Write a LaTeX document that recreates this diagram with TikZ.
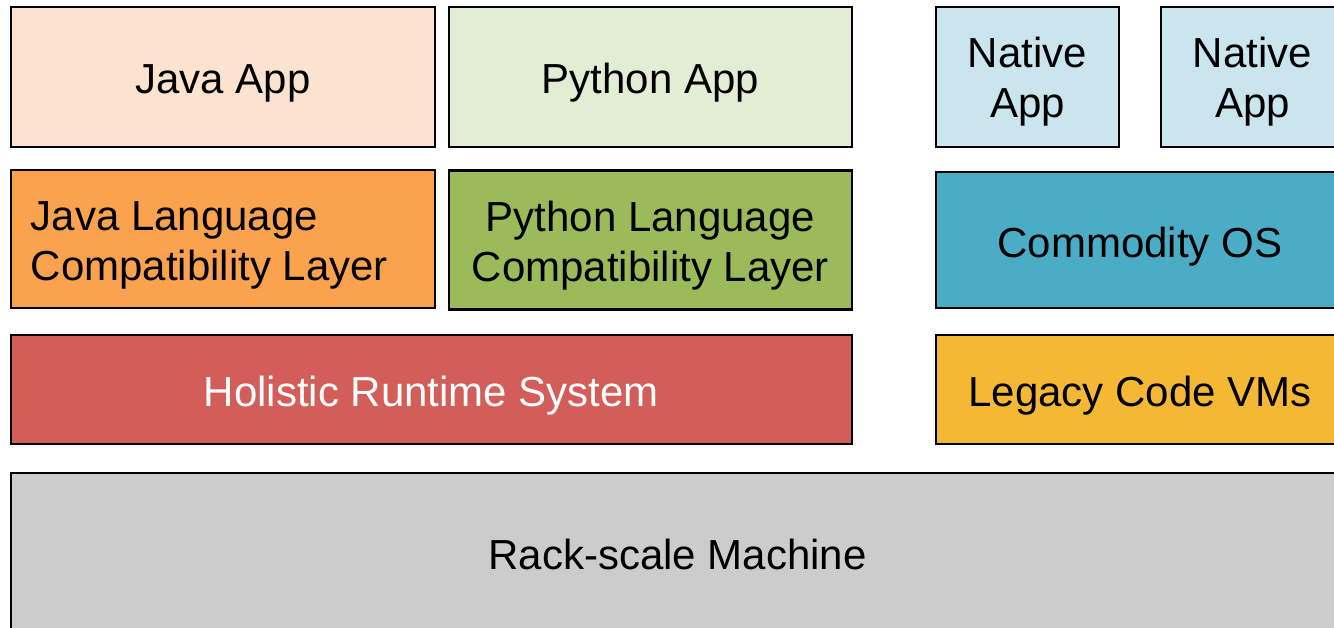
\documentclass[tikz,border=0pt]{standalone}
\usepackage{fontspec}
\setmainfont{Liberation Sans}
\definecolor{javaapp}{HTML}{FCE3D0}
\definecolor{pyapp}{HTML}{E2EDD4}
\definecolor{nativeapp}{HTML}{CAE5EE}
\definecolor{javalang}{HTML}{FBA24E}
\definecolor{pylang}{HTML}{9BBB5A}
\definecolor{commos}{HTML}{4BACC6}
\definecolor{runtime}{HTML}{D35D58}
\definecolor{legacy}{HTML}{F4B835}
\definecolor{machine}{HTML}{CCCCCC}
\tikzset{
  layer/.style={draw=black, line width=2.6pt, rectangle, inner sep=0pt},
  caption/.style={inner sep=0pt, font=\fontsize{42}{50}\selectfont,
    align=center, text=black},
}
\begin{document}
\begin{tikzpicture}[x=1pt,y=-1pt]
\useasboundingbox (0,0) rectangle (1334,628);
\clip (0,0) rectangle (1334,628);
\fill[white] (0,0) rectangle (1334,628);
% top row: applications
\node[layer, fill=javaapp, minimum width=424pt, minimum height=140pt] (japp) at (223,77) {};
\node[layer, fill=pyapp, minimum width=403pt, minimum height=140pt] (papp) at (650.5,77) {};
\node[layer, fill=nativeapp, minimum width=183pt, minimum height=140pt] (napp1) at (1027.5,77) {};
\node[layer, fill=nativeapp, minimum width=183pt, minimum height=140pt] (napp2) at (1252.5,77) {};
% second row: compatibility layers and OS
\node[layer, fill=javalang, minimum width=424pt, minimum height=138pt] (jlang) at (223,239) {};
\node[layer, fill=pylang, minimum width=403pt, minimum height=139pt] (plang) at (650.5,240) {};
\node[layer, fill=commos, minimum width=408pt, minimum height=136pt] (os) at (1140,240) {};
% third row: runtime and VMs
\node[layer, fill=runtime, minimum width=841pt, minimum height=109pt] (hrs) at (431.5,389.5) {};
\node[layer, fill=legacy, minimum width=408pt, minimum height=109pt] (vms) at (1140,389.5) {};
% bottom: hardware
\node[layer, fill=machine, minimum width=1333pt, minimum height=162pt] (rack) at (677.5,554) {};
% captions
\node[caption] (japp-t) at ([yshift=-6pt]japp.center) {Java App};
\node[caption] (papp-t) at ([yshift=-6pt]papp.center) {Python App};
\node[caption] (napp1-t) at ([yshift=-5pt]napp1.center) {Native\\App};
\node[caption] (napp2-t) at ([yshift=-5pt]napp2.center) {Native\\App};
\node[caption, align=left, anchor=west] (jlang-t) at ([xshift=21pt,yshift=-6pt]jlang.west) {Java Language\\Compatibility Layer};
\node[caption] (plang-t) at ([yshift=-6pt]plang.center) {Python Language\\Compatibility Layer};
\node[caption] (os-t) at ([yshift=-7pt]os.center) {Commodity OS};
\node[caption, text=white] (hrs-t) at ([yshift=-6pt]hrs.center) {Holistic Runtime System};
\node[caption] (vms-t) at ([yshift=-6pt]vms.center) {Legacy Code VMs};
\node[caption] (rack-t) at (rack.center) {Rack-scale Machine};
\end{tikzpicture}
\end{document}
